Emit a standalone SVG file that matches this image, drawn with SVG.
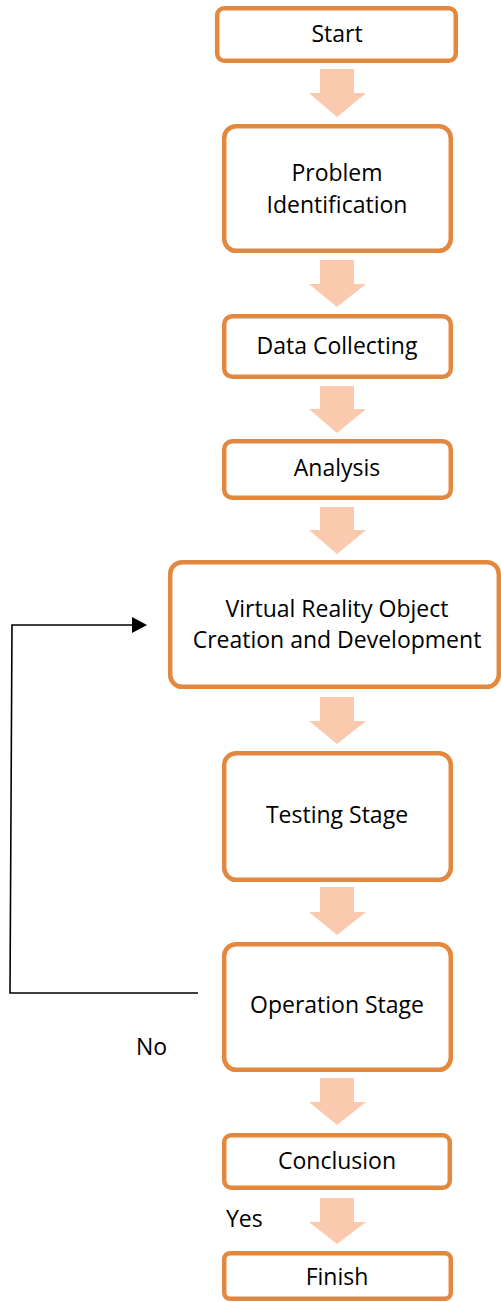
<svg xmlns="http://www.w3.org/2000/svg" width="501" height="1302" viewBox="0 0 501 1302">
<defs>
<style>
.box{fill:#fff;stroke:#E2883F;stroke-width:4.5}
.t{font-family:"Open Sans","Liberation Sans",sans-serif;font-size:23px;fill:#000;text-anchor:middle}
.l{font-family:"Open Sans","Liberation Sans",sans-serif;font-size:23px;fill:#000}
.ar{fill:#FBC9AD}
.fb{fill:none;stroke:#000;stroke-width:1.6}
</style>
</defs>
<rect width="501" height="1302" fill="#fff"/>
<g id="connectors">
<polygon class="ar" points="320,69 354,69 354,93 366,93 337,117 309,93 320,93"/>
<polygon class="ar" points="320,260 354,260 354,284 366,284 337,307 309,284 320,284"/>
<polygon class="ar" points="320,386 354,386 354,409 366,409 337,433 309,409 320,409"/>
<polygon class="ar" points="320,507 354,507 354,530 366,530 337,554 309,530 320,530"/>
<polygon class="ar" points="320,697 354,697 354,721 366,721 337,744 309,721 320,721"/>
<polygon class="ar" points="320,887 354,887 354,912 366,912 337,935 309,912 320,912"/>
<polygon class="ar" points="320,1078 354,1078 354,1102 366,1102 337,1125 309,1102 320,1102"/>
<polygon class="ar" points="320,1198 354,1198 354,1222 366,1222 337,1244 309,1222 320,1222"/>
<polyline class="fb" points="198,993 10,993 12,625 134,625"/>
<polygon points="132,617 147,625 132,633" fill="#000"/>
</g>
<g id="start"><rect class="box" x="217.2" y="8.2" width="238.6" height="52.6" rx="7"/><text class="t" x="337" y="42">Start</text></g>
<g id="problem"><rect class="box" x="224.2" y="126.2" width="226.6" height="124.6" rx="12"/><text class="t" x="337" y="181.2">Problem</text><text class="t" x="337" y="212.8">Identification</text></g>
<g id="data"><rect class="box" x="224.2" y="316.2" width="226.6" height="60.6" rx="8"/><text class="t" x="337" y="354">Data Collecting</text></g>
<g id="analysis"><rect class="box" x="224.2" y="441.2" width="226.6" height="56.6" rx="8"/><text class="t" x="337" y="476">Analysis</text></g>
<g id="vr"><rect class="box" x="170.2" y="562.2" width="328.6" height="124.6" rx="12"/><text class="t" x="337" y="616.7">Virtual Reality Object</text><text class="t" x="337" y="648.3">Creation and Development</text></g>
<g id="testing"><rect class="box" x="224.2" y="753.2" width="226.6" height="126.6" rx="12"/><text class="t" x="337" y="823">Testing Stage</text></g>
<g id="operation"><rect class="box" x="224.2" y="944.2" width="226.6" height="125.6" rx="12"/><text class="t" x="337" y="1013">Operation Stage</text></g>
<g id="no"><text class="l" x="136" y="1055">No</text></g>
<g id="conclusion"><rect class="box" x="224.2" y="1135.2" width="225.6" height="52.6" rx="7"/><text class="t" x="337" y="1169">Conclusion</text></g>
<g id="yes"><text class="l" x="226" y="1227">Yes</text></g>
<g id="finish"><rect class="box" x="224.2" y="1253.2" width="226.6" height="45.6" rx="6"/><text class="t" x="337" y="1285">Finish</text></g>
</svg>
